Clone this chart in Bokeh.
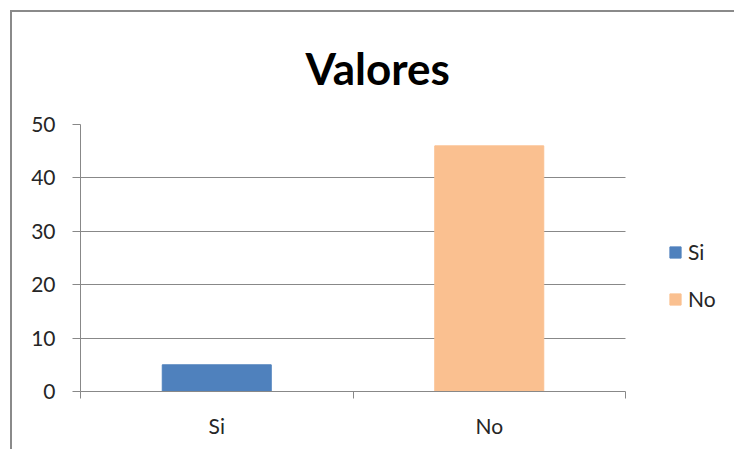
from bokeh.plotting import figure
from bokeh.models import (ColumnDataSource, Range1d, FixedTicker, Legend, LegendItem, Title)
from bokeh.embed import file_html
from bokeh.resources import INLINE

# data
categories = ["Si", "No"]
values = [5, 46]
colors = ["#4F81BD", "#FAC090"]
y_ticks = [0, 10, 20, 30, 40, 50]
title_text = "Valores"

FONT = "Lato"
GRAY = "#888888"
TEXT = "#262626"

n = len(categories)
xs = [i + 0.5 for i in range(n)]
src = ColumnDataSource(dict(x=xs, top=values, color=colors, cat=categories))

# layout (pixels)
W, H = 724, 439
LEFT, TOP, BOTTOM = 68, 112, 60
PLOT_W = 545          # width of the category area
x_end = n * (W - LEFT) / PLOT_W   # extend range to make room for the legend

p = figure(width=W, height=H, output_backend="svg", toolbar_location=None,
           x_range=Range1d(0, x_end), y_range=Range1d(0, 50),
           min_border_left=LEFT, min_border_right=0, min_border_top=TOP,
           min_border_bottom=BOTTOM, title=None)
p.margin = (10, 0, 0, 10)
p.styles = {"border-left": "2px solid #8a8a8a", "border-top": "2px solid #8a8a8a"}
p.outline_line_color = None
p.background_fill_color = "white"
p.border_fill_color = "white"

r = p.vbar(x="x", top="top", width=0.4, color="color", source=src)

# y axis
ya = p.yaxis[0]
ya.ticker = FixedTicker(ticks=y_ticks, minor_ticks=[])
ya.axis_line_color = GRAY
ya.major_tick_line_color = GRAY
ya.major_tick_out = 8
ya.major_tick_in = 0
ya.minor_tick_line_color = None
ya.major_label_standoff = 17
ya.major_label_text_font = FONT
ya.major_label_text_font_size = "21px"
ya.major_label_text_color = TEXT

# x axis
xa = p.xaxis[0]
xa.bounds = (0, n)
xa.ticker = FixedTicker(ticks=xs, minor_ticks=list(range(n + 1)))
xa.major_label_overrides = {x: c for x, c in zip(xs, categories)}
xa.axis_line_color = GRAY
xa.major_tick_line_color = None
xa.major_tick_out = 0
xa.major_tick_in = 0
xa.minor_tick_line_color = GRAY
xa.minor_tick_out = 7
xa.minor_tick_in = 0
xa.major_label_standoff = 14
xa.major_label_text_font = FONT
xa.major_label_text_font_size = "21px"
xa.major_label_text_color = TEXT

p.xgrid.grid_line_color = None
p.ygrid.grid_line_color = GRAY
p.ygrid.ticker = FixedTicker(ticks=y_ticks)
p.ygrid.cross_bounds = (0, n)

t = Title(text=title_text, text_font=FONT, text_font_size="44px", text_font_style="bold",
          text_color="black", align="left", offset=225, standoff=57, vertical_align="top")
p.add_layout(t, "above")

items = [LegendItem(label=c, renderers=[r], index=i) for i, c in enumerate(categories)]
leg = Legend(items=items, location=(588, 80), orientation="vertical",
             glyph_width=14, glyph_height=14, label_text_font=FONT,
             label_text_font_size="21px", label_text_color=TEXT,
             spacing=22, padding=0, margin=0, label_standoff=6,
             border_line_color=None, background_fill_alpha=0)
p.add_layout(leg, "center")

open("out.html", "w").write(file_html(p, INLINE))
